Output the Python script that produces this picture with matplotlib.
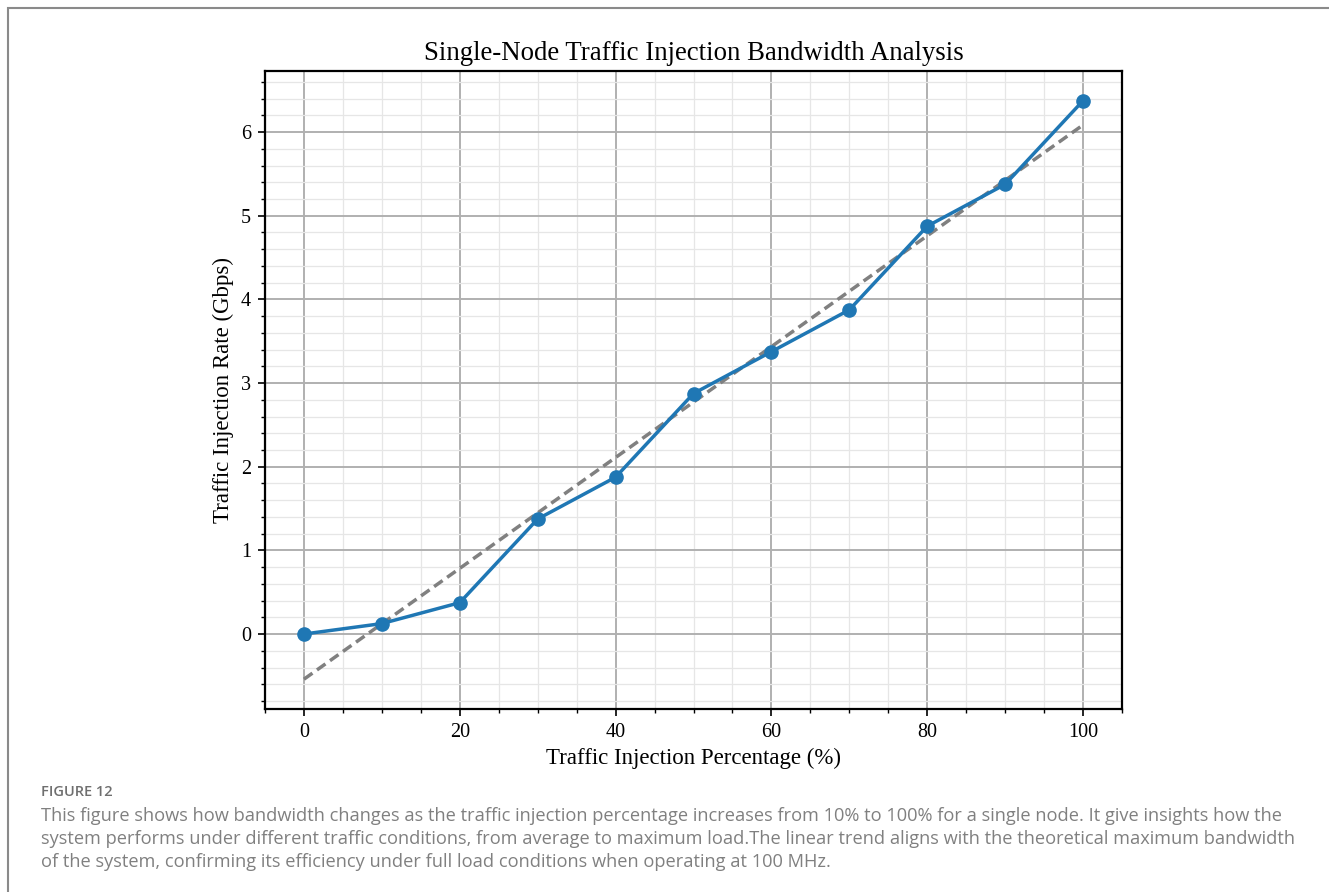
import numpy as np
import matplotlib
matplotlib.use("Agg")
import matplotlib.pyplot as plt
from matplotlib.ticker import MultipleLocator
from matplotlib.patches import Rectangle

# Data
injection_pct = [0, 10, 20, 30, 40, 50, 60, 70, 80, 90, 100]
injection_rate = [0.0, 0.125, 0.375, 1.375, 1.875, 2.875, 3.375, 3.875, 4.875, 5.375, 6.375]
title = "Single-Node Traffic Injection Bandwidth Analysis"
xlabel = "Traffic Injection Percentage (%)"
ylabel = "Traffic Injection Rate (Gbps)"
fig_label = "FIGURE 12"
caption_lines = [
    "This figure shows how bandwidth changes as the traffic injection percentage increases from 10% to 100% for a single node. It give insights how the",
    "system performs under different traffic conditions, from average to maximum load.The linear trend aligns with the theoretical maximum bandwidth",
    "of the system, confirming its efficiency under full load conditions when operating at 100 MHz.",
]

W, H = 1329, 892
fig = plt.figure(figsize=(W / 100, H / 100), dpi=100)

# outer frame (only top and left visible)
fig.add_artist(Rectangle((8 / W, -0.1), 1.2, 1 - 8 / H + 0.1, transform=fig.transFigure,
                         fill=False, edgecolor="#8a8a8a", linewidth=1.5))

ax = fig.add_axes([265 / W, 1 - 709 / H, (1122 - 265) / W, (709 - 71) / H])
serif = ["Liberation Serif", "DejaVu Serif"]
sans = ["Open Sans", "DejaVu Sans"]

x = np.array(injection_pct, dtype=float)
y = np.array(injection_rate)
coef = np.polyfit(x, y, 1)
ax.plot(x, np.polyval(coef, x), linestyle=(0, (3, 1.6)), color="#808080", linewidth=2.5, zorder=3)
ax.plot(x, y, color="#1f77b4", linewidth=2.5, marker="o", markersize=9.5, zorder=4)

ax.set_xlim(-5, 105)
ax.set_ylim(-0.896, 6.73)
ax.xaxis.set_major_locator(MultipleLocator(20))
ax.xaxis.set_minor_locator(MultipleLocator(5))
ax.yaxis.set_major_locator(MultipleLocator(1))
ax.yaxis.set_minor_locator(MultipleLocator(0.2))
ax.grid(which="major", color="#b0b0b0", linewidth=1.4)
ax.grid(which="minor", color="#e6e6e6", linewidth=0.9)
ax.set_axisbelow(True)
ax.tick_params(which="major", direction="out", length=5, width=1.2, labelsize=14.5, pad=5)
ax.tick_params(which="minor", direction="out", length=3, width=1.0)
for lbl in ax.get_xticklabels() + ax.get_yticklabels():
    lbl.set_fontfamily(serif)
for s in ax.spines.values():
    s.set_linewidth(1.6)

ax.set_title(title, fontsize=19.3, fontfamily=serif, pad=8)
ax.set_xlabel(xlabel, fontsize=16.5, fontfamily=serif, labelpad=4)
ax.set_ylabel(ylabel, fontsize=16.5, fontfamily=serif, labelpad=5)

renderer = fig.canvas.get_renderer()
fl = fig.text(41 / W, 1 - 796 / H, fig_label, fontsize=10.5, color="#6f6f6f",
              fontfamily=sans, fontweight="semibold", va="baseline")
wf = fl.get_window_extent(renderer).width
fl.set_fontsize(10.5 * 72 / wf)

txts = []
for i, line in enumerate(caption_lines):
    t = fig.text(41 / W, 1 - (821 + i * 23) / H, line, fontsize=12.0, color="#808080",
                 fontfamily=sans, va="baseline")
    txts.append(t)
# scale caption font so the first line spans the same width as in the reference
w0 = txts[0].get_window_extent(renderer).width
fs = 12.0 * (1242 / w0)
for t in txts:
    t.set_fontsize(fs)

fig.savefig("out.png", dpi=100)
